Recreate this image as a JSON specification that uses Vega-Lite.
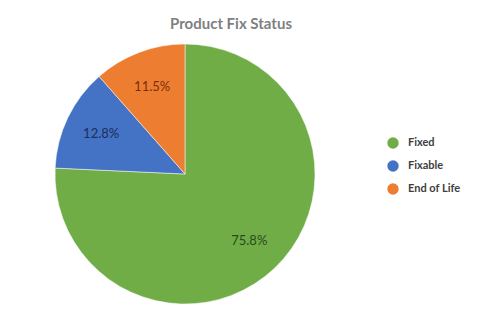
{
  "$schema": "https://vega.github.io/schema/vega-lite/v6.json",
  "width": 368,
  "height": 262,
  "padding": {"left": 1, "top": 17, "right": 5, "bottom": 5},
  "autosize": {"type": "pad"},
  "background": "white",
  "title": {
    "text": "Product Fix Status",
    "font": "Lato",
    "fontSize": 15,
    "fontWeight": "bold",
    "color": "#7f7f7f",
    "anchor": "middle",
    "frame": "bounds",
    "offset": 11
  },
  "data": {
    "values": [
      {"category": "Fixed", "value": 75.8, "label": "75.8%"},
      {"category": "Fixable", "value": 12.8, "label": "12.8%"},
      {"category": "End of Life", "value": 11.5, "label": "11.5%"}
    ]
  },
  "encoding": {
    "theta": {"field": "value", "type": "quantitative", "stack": true},
    "order": {"field": "value", "type": "quantitative", "sort": "descending"}
  },
  "layer": [
    {
      "mark": {"type": "arc", "outerRadius": 130, "stroke": "#ffffff", "strokeWidth": 0.5},
      "encoding": {
        "color": {
          "field": "category",
          "type": "nominal",
          "sort": ["Fixed", "Fixable", "End of Life"],
          "scale": {"domain": ["Fixed", "Fixable", "End of Life"], "range": ["#70ad47", "#4472c4", "#ed7d31"]},
          "legend": {
            "title": null,
            "orient": "none",
            "legendX": 386,
            "legendY": 94,
            "symbolType": "circle",
            "symbolSize": 130,
            "symbolStrokeWidth": 0,
            "labelFont": "Lato",
            "labelFontSize": 11,
            "labelFontWeight": "bold",
            "labelColor": "#404040",
            "labelOffset": 9,
            "rowPadding": 11
          }
        }
      }
    },
    {
      "mark": {"type": "text", "radius": 93, "font": "Lato", "fontSize": 13},
      "encoding": {
        "text": {"field": "label", "type": "nominal"},
        "color": {
          "field": "category",
          "type": "nominal",
          "sort": ["Fixed", "Fixable", "End of Life"],
          "scale": {"domain": ["Fixed", "Fixable", "End of Life"], "range": ["#2b4a1a", "#1a2f5a", "#7a2f0a"]},
          "legend": null
        }
      }
    }
  ],
  "resolve": {"scale": {"color": "independent"}},
  "config": {"view": {"stroke": null}}
}
